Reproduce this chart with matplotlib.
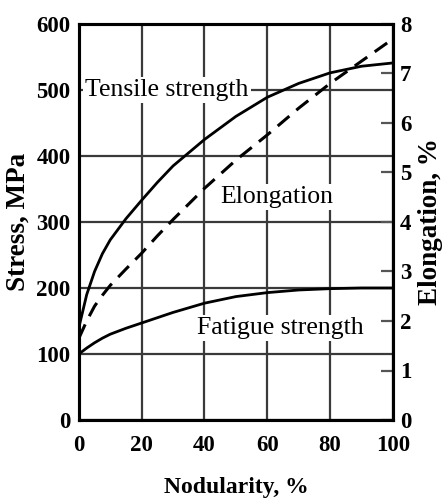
import matplotlib
matplotlib.use("Agg")
import matplotlib.pyplot as plt

# data
nodularity = [0, 2.5, 5, 7.5, 10, 15, 20, 25, 30, 40, 50, 60, 70, 80, 90, 100]
tensile_mpa = [140, 190, 225, 252, 273, 305, 333, 360, 385, 425, 460, 489, 510, 526, 536, 541]
fatigue_mpa = [100, 109, 117, 124, 130, 139, 147, 155, 163, 177, 187, 193, 197, 199, 200, 200]
elongation_pct = [1.65, 2.0, 2.3, 2.52, 2.72, 3.05, 3.37, 3.72, 4.05, 4.68, 5.25, 5.76,
                  6.3, 6.8, 7.25, 7.7]

x_ticks = [0, 20, 40, 60, 80, 100]
stress_ticks = [0, 100, 200, 300, 400, 500, 600]
elong_ticks = [0, 1, 2, 3, 4, 5, 6, 7, 8]

SERIF = ["Liberation Serif", "DejaVu Serif"]
plt.rcParams["font.family"] = SERIF

fig = plt.figure(figsize=(4.43, 5.0), dpi=100)
ax = fig.add_axes([0.178, 0.16, 0.709, 0.792])

ax.set_xlim(0, 100)
ax.set_ylim(0, 600)
ax.set_xticks(x_ticks)
ax.set_yticks(stress_ticks)
ax.set_xticklabels([str(v) for v in x_ticks], fontsize=16.5, fontweight="bold")
ax.set_yticklabels([str(v) for v in stress_ticks], fontsize=16.5, fontweight="bold")
ax.tick_params(axis="y", length=0, pad=6)
ax.tick_params(axis="x", length=0, pad=11)
ax.grid(True, color="#3a3a3a", linewidth=1.6, zorder=1)
for s in ax.spines.values():
    s.set_linewidth(2.2)
    s.set_color("black")

ax.plot(nodularity, tensile_mpa, color="black", linewidth=2.0, zorder=3)
ax.plot(nodularity, fatigue_mpa, color="black", linewidth=2.0, zorder=3)

ax2 = ax.twinx()
ax2.set_ylim(0, 8)
ax2.set_yticks(elong_ticks)
ax2.set_yticklabels([str(v) for v in elong_ticks], fontsize=16.5, fontweight="bold")
ax2.tick_params(axis="y", direction="in", length=9, width=1.6, color="#555555", pad=5)
ax2.plot(nodularity, elongation_pct, color="black", linewidth=2.2,
         linestyle=(0, (5, 3)), zorder=3)
for s in ax2.spines.values():
    s.set_linewidth(2.2)

ax.set_xlabel("Nodularity, %", fontsize=17, fontweight="bold", labelpad=15)
ax.set_ylabel("Stress, MPa", fontsize=19.5, fontweight="bold", labelpad=4)
ax2.set_ylabel("Elongation, %", fontsize=19.5, fontweight="bold", labelpad=5)

box = dict(facecolor="white", edgecolor="none", pad=1.5)
ax.text(2, 500, "Tensile strength", fontsize=18.5, ha="left", va="center",
        bbox=box, zorder=4)
ax.text(63, 338, "Elongation", fontsize=18.5, ha="center", va="center",
        bbox=box, zorder=4)
ax.text(64, 139, "Fatigue strength", fontsize=18.5, ha="center", va="center",
        bbox=box, zorder=4)

fig.savefig("out.png", dpi=100, facecolor="white")
